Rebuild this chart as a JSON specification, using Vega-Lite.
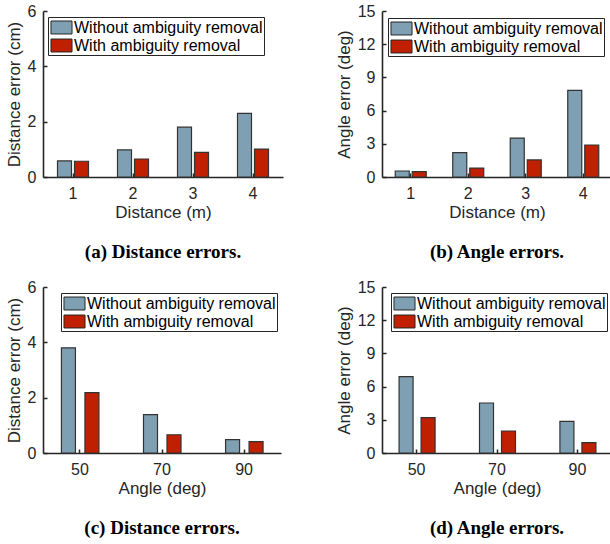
{
  "$schema": "https://vega.github.io/schema/vega-lite/v6.json",
  "background": "white",
  "padding": {"left": 5, "top": 3, "right": 0, "bottom": 0},
  "datasets": {
    "a": [
      {"x": "1", "method": "Without ambiguity removal", "value": 0.58},
      {"x": "1", "method": "With ambiguity removal", "value": 0.57},
      {"x": "2", "method": "Without ambiguity removal", "value": 0.98},
      {"x": "2", "method": "With ambiguity removal", "value": 0.65},
      {"x": "3", "method": "Without ambiguity removal", "value": 1.8},
      {"x": "3", "method": "With ambiguity removal", "value": 0.89},
      {"x": "4", "method": "Without ambiguity removal", "value": 2.3},
      {"x": "4", "method": "With ambiguity removal", "value": 1.01}
    ],
    "b": [
      {"x": "1", "method": "Without ambiguity removal", "value": 0.54},
      {"x": "1", "method": "With ambiguity removal", "value": 0.48},
      {"x": "2", "method": "Without ambiguity removal", "value": 2.2},
      {"x": "2", "method": "With ambiguity removal", "value": 0.81},
      {"x": "3", "method": "Without ambiguity removal", "value": 3.52},
      {"x": "3", "method": "With ambiguity removal", "value": 1.54},
      {"x": "4", "method": "Without ambiguity removal", "value": 7.83},
      {"x": "4", "method": "With ambiguity removal", "value": 2.89}
    ],
    "c": [
      {"x": "50", "method": "Without ambiguity removal", "value": 3.8},
      {"x": "50", "method": "With ambiguity removal", "value": 2.18},
      {"x": "70", "method": "Without ambiguity removal", "value": 1.39},
      {"x": "70", "method": "With ambiguity removal", "value": 0.66},
      {"x": "90", "method": "Without ambiguity removal", "value": 0.48},
      {"x": "90", "method": "With ambiguity removal", "value": 0.41}
    ],
    "d": [
      {"x": "50", "method": "Without ambiguity removal", "value": 6.9},
      {"x": "50", "method": "With ambiguity removal", "value": 3.19},
      {"x": "70", "method": "Without ambiguity removal", "value": 4.52},
      {"x": "70", "method": "With ambiguity removal", "value": 1.99},
      {"x": "90", "method": "Without ambiguity removal", "value": 2.86},
      {"x": "90", "method": "With ambiguity removal", "value": 0.93}
    ]
  },
  "columns": 2,
  "spacing": {"column": 52, "row": 17},
  "resolve": {"scale": {"color": "independent"}, "legend": {"color": "independent"}},
  "concat": [
    {
      "data": {"name": "a"},
      "width": 240, "height": 166,
      "title": {"text": "(a) Distance errors."},
      "encoding": {
        "x": {"field": "x", "type": "ordinal", "title": "Distance (m)", "scale": {"paddingInner": 0.48, "paddingOuter": 0.24}},
        "y": {"field": "value", "type": "quantitative", "title": "Distance error (cm)", "scale": {"domain": [0, 6], "nice": false}, "axis": {"values": [0, 2, 4, 6]}},
        "color": {"field": "method", "type": "nominal", "scale": {"domain": ["Without ambiguity removal", "With ambiguity removal"], "range": ["#7fa0b2", "#c01f00"]}, "legend": {"legendX": 5, "legendY": 6}}
      },
      "layer": [
        {"transform": [{"filter": "datum.method === 'Without ambiguity removal'"}], "mark": {"type": "bar", "stroke": "#333333", "strokeWidth": 1.2, "width": 14, "xOffset": -8.5}},
        {"transform": [{"filter": "datum.method === 'With ambiguity removal'"}], "mark": {"type": "bar", "stroke": "#333333", "strokeWidth": 1.2, "width": 14, "xOffset": 8.5}}
      ]
    },
    {
      "data": {"name": "b"},
      "width": 230, "height": 166,
      "title": {"text": "(b) Angle errors."},
      "encoding": {
        "x": {"field": "x", "type": "ordinal", "title": "Distance (m)", "scale": {"paddingInner": 0.48, "paddingOuter": 0.24}},
        "y": {"field": "value", "type": "quantitative", "title": "Angle error (deg)", "scale": {"domain": [0, 15], "nice": false}, "axis": {"values": [0, 3, 6, 9, 12, 15]}},
        "color": {"field": "method", "type": "nominal", "scale": {"domain": ["Without ambiguity removal", "With ambiguity removal"], "range": ["#7fa0b2", "#c01f00"]}, "legend": {"legendX": 6, "legendY": 7}}
      },
      "layer": [
        {"transform": [{"filter": "datum.method === 'Without ambiguity removal'"}], "mark": {"type": "bar", "stroke": "#333333", "strokeWidth": 1.2, "width": 14, "xOffset": -8.5}},
        {"transform": [{"filter": "datum.method === 'With ambiguity removal'"}], "mark": {"type": "bar", "stroke": "#333333", "strokeWidth": 1.2, "width": 14, "xOffset": 8.5}}
      ]
    },
    {
      "data": {"name": "c"},
      "width": 238, "height": 166,
      "title": {"text": "(c) Distance errors."},
      "encoding": {
        "x": {"field": "x", "type": "ordinal", "title": "Angle (deg)", "scale": {"paddingInner": 0.54, "paddingOuter": 0.22}},
        "y": {"field": "value", "type": "quantitative", "title": "Distance error (cm)", "scale": {"domain": [0, 6], "nice": false}, "axis": {"values": [0, 2, 4, 6]}},
        "color": {"field": "method", "type": "nominal", "scale": {"domain": ["Without ambiguity removal", "With ambiguity removal"], "range": ["#7fa0b2", "#c01f00"]}, "legend": {"legendX": 18, "legendY": 6}}
      },
      "layer": [
        {"transform": [{"filter": "datum.method === 'Without ambiguity removal'"}], "mark": {"type": "bar", "stroke": "#333333", "strokeWidth": 1.2, "width": 14, "xOffset": -11.5}},
        {"transform": [{"filter": "datum.method === 'With ambiguity removal'"}], "mark": {"type": "bar", "stroke": "#333333", "strokeWidth": 1.2, "width": 14, "xOffset": 12}}
      ]
    },
    {
      "data": {"name": "d"},
      "width": 230, "height": 166,
      "title": {"text": "(d) Angle errors."},
      "encoding": {
        "x": {"field": "x", "type": "ordinal", "title": "Angle (deg)", "scale": {"paddingInner": 0.54, "paddingOuter": 0.2}},
        "y": {"field": "value", "type": "quantitative", "title": "Angle error (deg)", "scale": {"domain": [0, 15], "nice": false}, "axis": {"values": [0, 3, 6, 9, 12, 15]}},
        "color": {"field": "method", "type": "nominal", "scale": {"domain": ["Without ambiguity removal", "With ambiguity removal"], "range": ["#7fa0b2", "#c01f00"]}, "legend": {"legendX": 9, "legendY": 6}}
      },
      "layer": [
        {"transform": [{"filter": "datum.method === 'Without ambiguity removal'"}], "mark": {"type": "bar", "stroke": "#333333", "strokeWidth": 1.2, "width": 14, "xOffset": -10.5}},
        {"transform": [{"filter": "datum.method === 'With ambiguity removal'"}], "mark": {"type": "bar", "stroke": "#333333", "strokeWidth": 1.2, "width": 14, "xOffset": 11.5}}
      ]
    }
  ],
  "config": {
    "view": {"stroke": null},
    "title": {"orient": "bottom", "font": "Liberation Serif", "fontSize": 19, "fontWeight": "bold", "color": "#000000", "offset": 23, "anchor": "middle"},
    "axis": {
      "grid": false,
      "domainColor": "#262626",
      "domainWidth": 1.6,
      "tickColor": "#262626",
      "tickSize": -4,
      "tickWidth": 1.5,
      "labelFont": "Liberation Sans",
      "labelFontSize": 16,
      "labelColor": "#262626",
      "titleFont": "Liberation Sans",
      "titleFontSize": 17,
      "titleFontWeight": "normal",
      "titleColor": "#262626"
    },
    "axisX": {"labelAngle": 0, "titlePadding": 3, "labelPadding": 12},
    "axisY": {"labelPadding": 11, "titlePadding": 4},
    "legend": {
      "orient": "none",
      "title": null,
      "strokeColor": "#262626",
      "fillColor": "white",
      "padding": 1,
      "symbolOffset": 3,
      "symbolType": "M-1.17,-0.72L1.17,-0.72L1.17,0.72L-1.17,0.72Z",
      "symbolSize": 324,
      "symbolStrokeColor": "#262626",
      "symbolStrokeWidth": 1,
      "symbolOpacity": 1,
      "labelFont": "Liberation Sans",
      "labelFontSize": 16,
      "labelLimit": 400,
      "labelColor": "#000000",
      "labelOffset": 3,
      "rowPadding": 0
    }
  }
}
